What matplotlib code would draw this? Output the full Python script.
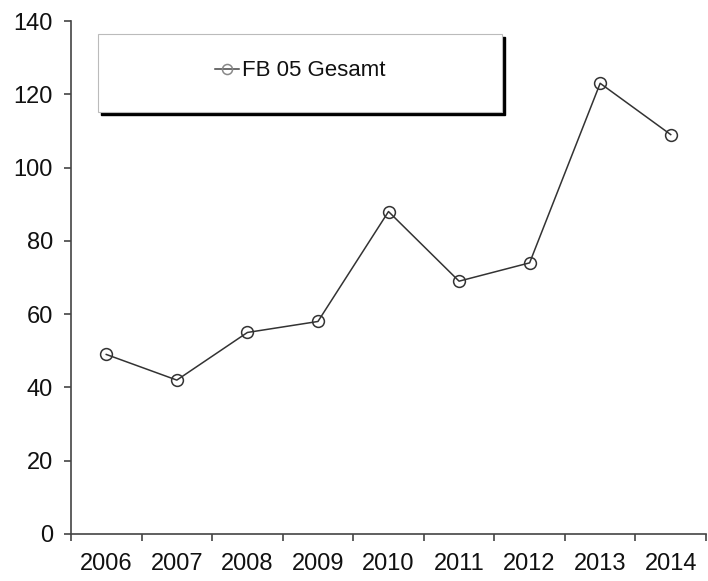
import matplotlib
matplotlib.use("Agg")
import matplotlib.pyplot as plt
from matplotlib.patches import Rectangle
import numpy as np

plt.rcParams['font.family'] = ['Liberation Sans', 'DejaVu Sans']

years = ['2006', '2007', '2008', '2009', '2010', '2011', '2012', '2013', '2014']
values = [49, 42, 55, 58, 88, 69, 74, 123, 109]
series_name = 'FB 05 Gesamt'

W, H = 708, 581
fig = plt.figure(figsize=(W / 100, H / 100), dpi=100)
ax = fig.add_axes([71 / W, 1 - 534 / H, (706 - 71) / W, (534 - 21) / H])

x = np.arange(len(years))
line, = ax.plot(x, values, color='#333333', lw=1.1, marker='o', markersize=8.5,
                markerfacecolor='none', markeredgecolor='#333333', markeredgewidth=1.1,
                label=series_name)

ax.set_xlim(-0.5, len(years) - 0.5)
ax.set_ylim(0, 140)
ax.set_yticks(np.arange(0, 141, 20))

# category labels between boundary ticks, excel style
ax.set_xticks(np.arange(-0.5, len(years), 1))
ax.set_xticklabels([])
ax.set_xticks(x, minor=True)
ax.set_xticklabels(years, minor=True)
ax.tick_params(axis='x', which='minor', length=0, pad=14, labelsize=17, labelcolor='#111111')
ax.tick_params(axis='x', which='major', direction='out', length=5, width=1.2, color='#444444')
ax.tick_params(axis='y', direction='out', length=5, width=1.2, color='#444444', labelsize=17,
               pad=8, labelcolor='#111111')

for s in ['top', 'right']:
    ax.spines[s].set_visible(False)
for s in ['left', 'bottom']:
    ax.spines[s].set_color('#444444')
    ax.spines[s].set_linewidth(1.2)

# legend box with a drop shadow
bx, by, bw, bh = 98 / W, 1 - 112 / H, 404 / W, 78 / H
fig.patches.append(Rectangle((bx + 3 / W, by - 3 / H), bw, bh, transform=fig.transFigure,
                             facecolor='black', edgecolor='black', zorder=1))
fig.patches.append(Rectangle((bx, by), bw, bh, transform=fig.transFigure,
                             facecolor='white', edgecolor='#bbbbbb', lw=0.8, zorder=2))
leg = fig.legend(handles=[line], loc='center', bbox_to_anchor=(bx + bw / 2, by + bh / 2 + 2 / H),
                 frameon=False, fontsize=16, handlelength=1.1, handletextpad=0.1,
                 markerscale=0.85)
leg.set_zorder(3)
for h in leg.legend_handles:
    h.set_color('#444444')
    h.set_markeredgecolor('#888888')
for t in leg.get_texts():
    t.set_color('#111111')

fig.savefig('out.png', dpi=100)
